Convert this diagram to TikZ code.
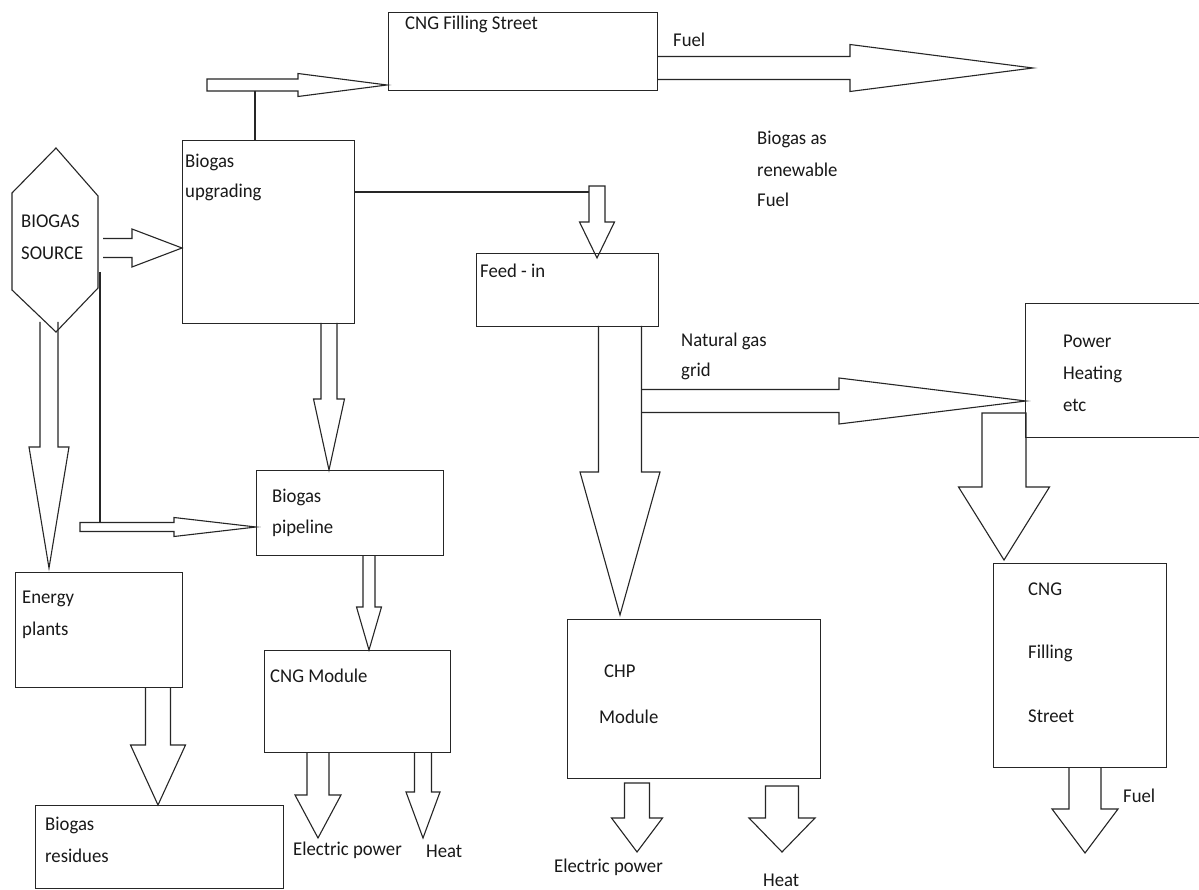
\documentclass[tikz,border=0pt]{standalone}
\usepackage{fontspec}
\setmainfont{Carlito}[FakeStretch=0.96]
\usetikzlibrary{calc}
\tikzset{
  box/.style={draw=black!85, line width=1.1pt, rectangle, inner sep=0pt, anchor=north west},
  lbl/.style={anchor=base west, inner sep=0pt, text=black!90, font=\fontsize{19.5}{30}\selectfont},
  barrow/.style={draw=black!85, line width=1.1pt, line join=miter},
  conn/.style={draw=black!85, line width=1.1pt}
}
% horizontal block arrow: start, tip, half shaft, half head, head length, closing
\newcommand\harrow[6]{\draw[barrow] let \p1=(#1), \p2=(#2) in
  (\x1,\y2+#3) -- (\x2-#5,\y2+#3) -- (\x2-#5,\y2+#4) -- (\x2,\y2) -- (\x2-#5,\y2-#4) -- (\x2-#5,\y2-#3) -- (\x1,\y2-#3) #6;}
% vertical (downward) block arrow
\newcommand\varrow[6]{\draw[barrow] let \p1=(#1), \p2=(#2) in
  (\x2-#3,\y1) -- (\x2-#3,\y2+#5) -- (\x2-#4,\y2+#5) -- (\x2,\y2) -- (\x2+#4,\y2+#5) -- (\x2+#3,\y2+#5) -- (\x2+#3,\y1) #6;}
\begin{document}
\begin{tikzpicture}[x=1pt,y=-1pt]
\useasboundingbox (0,0) rectangle (1199,890);
\fill[white] (0,0) rectangle (1199,890);

% boxes
\node[box, minimum width=269, minimum height=78] (cngtop) at (388,12) {};
\node[box, minimum width=172, minimum height=183] (upgr) at (182,140) {};
\node[box, minimum width=182, minimum height=73] (feed) at (476,253) {};
\node[box, minimum width=187, minimum height=85] (pipe) at (256,470) {};
\node[box, minimum width=167, minimum height=115] (energy) at (15,572) {};
\node[box, minimum width=186, minimum height=102] (cngmod) at (264,650) {};
\node[box, minimum width=248, minimum height=83] (resid) at (35,805) {};
\node[box, minimum width=253, minimum height=159] (chp) at (567,619) {};
\node[box, minimum width=190, minimum height=134] (power) at (1025,303) {};
\node[box, minimum width=173, minimum height=204] (cngst) at (993,563) {};

% hexagon source
\coordinate (hT) at (56,148);
\coordinate (hUR) at (98,196);
\coordinate (hLR) at (98,288);
\coordinate (hB) at (56,332);
\coordinate (hLL) at (12,290);
\coordinate (hUL) at (12,193);
\draw[conn] (hT) -- (hUR) -- (hLR) -- (hB) -- (hLL) -- (hUL) -- cycle;

% texts
\node[lbl] (t1) at (405,30) {CNG Filling Street};
\node[lbl] (t2) at (673,47) {Fuel};
\node[lbl] (t3a) at (757,145) {Biogas as};
\node[lbl] (t3b) at (757,177) {renewable};
\node[lbl] (t3c) at (757,207) {Fuel};
\node[lbl] (t4a) at (185,168) {Biogas};
\node[lbl] (t4b) at (185,198) {upgrading};
\node[lbl] (t5a) at (21,228) {BIOGAS};
\node[lbl] (t5b) at (21,260) {SOURCE};
\node[lbl] (t6) at (480,278) {Feed - in};
\node[lbl] (t7a) at (681,347) {Natural gas};
\node[lbl] (t7b) at (681,377) {grid};
\node[lbl] (t8a) at (1063,348) {Power};
\node[lbl] (t8b) at (1063,380) {Heating};
\node[lbl] (t8c) at (1063,411) {etc};
\node[lbl] (t9a) at (272,502) {Biogas};
\node[lbl] (t9b) at (272,533) {pipeline};
\node[lbl] (t10a) at (22,603) {Energy};
\node[lbl] (t10b) at (22,635) {plants};
\node[lbl] (t11) at (270,682) {CNG Module};
\node[lbl] (t12a) at (45,830) {Biogas};
\node[lbl] (t12b) at (45,862) {residues};
\node[lbl] (t13) at (293,855) {Electric power};
\node[lbl] (t14) at (426,857) {Heat};
\node[lbl] (t15a) at (604,677) {CHP};
\node[lbl] (t15b) at (599,723) {Module};
\node[lbl] (t16) at (554,872) {Electric power};
\node[lbl] (t17) at (763,886) {Heat};
\node[lbl] (t18a) at (1028,595) {CNG};
\node[lbl] (t18b) at (1028,658) {Filling};
\node[lbl] (t18c) at (1028,722) {Street};
\node[lbl] (t19) at (1123,802) {Fuel};

% arrow end coordinates
\coordinate (a1s) at (207,85);   \coordinate (a1t) at (387,85);
\coordinate (a2s) at (103,248);  \coordinate (a2t) at (182,248);
\coordinate (a3s) at (80,527);   \coordinate (a3t) at (256,527);
\coordinate (a4s) at (657,68);   \coordinate (a4t) at (1033,68);
\coordinate (a5s) at (641,401);  \coordinate (a5t) at (1026,401);
\coordinate (v1s) at (49,322);   \coordinate (v1t) at (49,568);
\coordinate (v2s) at (329,323);  \coordinate (v2t) at (329,470);
\coordinate (v3s) at (369,555);  \coordinate (v3t) at (369,650);
\coordinate (v4s) at (318,752);  \coordinate (v4t) at (318,838);
\coordinate (v5s) at (423,752);  \coordinate (v5t) at (423,838);
\coordinate (v6s) at (158,687);  \coordinate (v6t) at (158,805);
\coordinate (v7s) at (597,186);  \coordinate (v7t) at (597,258);
\coordinate (v8s) at (620,326);  \coordinate (v8t) at (620,615);
\coordinate (v9s) at (1004,413); \coordinate (v9t) at (1004,560);
\coordinate (v10s) at (1085,767); \coordinate (v10t) at (1085,853);
\coordinate (v11s) at (637,783); \coordinate (v11t) at (637,852);
\coordinate (v12s) at (782,786); \coordinate (v12t) at (782,852);

% horizontal block arrows
\harrow{a1s}{a1t}{6}{11.5}{89}{-- cycle}
\harrow{a2s}{a2t}{9.5}{19}{50}{}
\harrow{a3s}{a3t}{4.5}{9.5}{82}{-- cycle}
\harrow{a4s}{a4t}{11.5}{23.5}{183}{}
\harrow{a5s}{a5t}{11.5}{23}{187}{}

% vertical block arrows
\varrow{v1s}{v1t}{9}{20}{121}{}
\varrow{v2s}{v2t}{8}{15.5}{71}{}
\varrow{v3s}{v3t}{6}{12.5}{43}{}
\varrow{v4s}{v4t}{11}{23}{43}{}
\varrow{v5s}{v5t}{8.5}{17}{46}{}
\varrow{v6s}{v6t}{12.5}{27.5}{60}{}
\varrow{v7s}{v7t}{8}{17.5}{36}{-- cycle}
\varrow{v8s}{v8t}{21.5}{40}{143}{}
\varrow{v9s}{v9t}{22}{45.5}{73}{-- cycle}
\varrow{v10s}{v10t}{16}{33}{44}{}
\varrow{v11s}{v11t}{12.5}{25.5}{34}{-- cycle}
\varrow{v12s}{v12t}{16.5}{33}{34}{-- cycle}

% plain connector lines
\coordinate (l1a) at (255,91);
\draw[conn] (l1a) -- (l1a |- upgr.north);
\coordinate (l2b) at (589,192);
\draw[conn] (upgr.east |- l2b) -- (l2b);
\coordinate (l3a) at (100,272); \coordinate (l3b) at (100,522);
\draw[conn] (l3a) -- (l3b);
\end{tikzpicture}
\end{document}
